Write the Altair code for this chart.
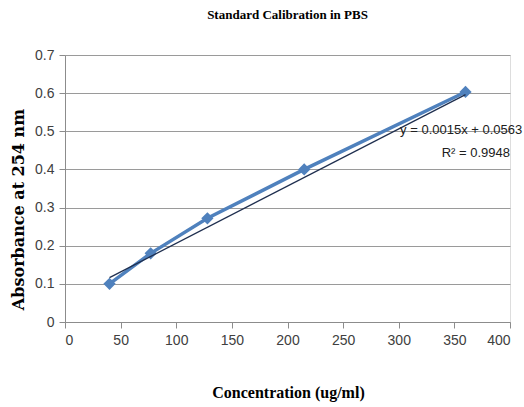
import altair as alt
import pandas as pd

# Calibration standards: concentration (ug/ml) vs absorbance at 254 nm
concentration = [40, 77, 128, 215, 360]
absorbance = [0.100, 0.180, 0.272, 0.400, 0.603]

# Least-squares fit reported on the chart
slope = 0.0015
intercept = 0.0563
r_squared = 0.9948

x_ticks = [0, 50, 100, 150, 200, 250, 300, 350, 400]
y_ticks = [0, 0.1, 0.2, 0.3, 0.4, 0.5, 0.6, 0.7]

df = pd.DataFrame({"conc": concentration, "abs": absorbance})
fit = pd.DataFrame({
    "conc": [concentration[0], concentration[-1]],
    "abs": [slope * concentration[0] + intercept, slope * concentration[-1] + intercept],
})
# Trendline equation and R² label, anchored by their right edge
labels = pd.DataFrame({
    "conc": [411, 400],
    "abs": [0.503, 0.442],
    "txt": [f"y = {slope}x + {intercept}", f"R\u00b2 = {r_squared}"],
})

tick_font = "Liberation Sans Narrow, Arial Narrow, Liberation Sans"
serif = "Liberation Serif"

x_enc = alt.X(
    "conc:Q",
    scale=alt.Scale(domain=[0, 400], nice=False),
    axis=alt.Axis(
        title="Concentration (ug/ml)",
        values=x_ticks,
        tickCount=len(x_ticks),
        grid=False,
        domainColor="#8c8c8c",
        tickColor="#8c8c8c",
        tickSize=6,
        labelPadding=5,
        labelFont=tick_font,
        labelFontSize=14,
        labelColor="#404040",
        titleFont=serif,
        titleFontSize=16,
        titleFontWeight="bold",
        titleColor="#000000",
        titleX=223,
        titleY=70,
        titleBaseline="middle",
    ),
)
y_enc = alt.Y(
    "abs:Q",
    scale=alt.Scale(domain=[0, 0.7], nice=False),
    axis=alt.Axis(
        title="Absorbance at 254 nm",
        values=y_ticks,
        tickCount=len(y_ticks),
        labelOverlap=False,
        format="~g",
        grid=True,
        gridColor="#9a9a9a",
        domainColor="#8c8c8c",
        tickColor="#8c8c8c",
        tickSize=6,
        labelPadding=5,
        labelFont=tick_font,
        labelFontSize=14,
        labelColor="#404040",
        titleFont="DejaVu Serif",
        titleFontSize=16,
        titleFontWeight="bold",
        titleColor="#000000",
        titleX=-47,
        titleY=154,
        titleBaseline="middle",
    ),
)

series = alt.Chart(df).mark_line(
    color="#4f81bd", strokeWidth=3.5,
    point=alt.OverlayMarkDef(shape="diamond", size=150, color="#4f81bd", filled=True, opacity=1),
).encode(x=x_enc, y=y_enc)

trend = alt.Chart(fit).mark_line(color="#1f2f4f", strokeWidth=1.3).encode(
    x="conc:Q", y="abs:Q"
)

eq = alt.Chart(labels).mark_text(
    align="right", baseline="middle", font=tick_font, fontSize=13, color="#202020", clip=False
).encode(x="conc:Q", y="abs:Q", text="txt:N")

chart = (
    alt.layer(series, trend, eq)
    .properties(
        width=445,
        height=267,
        title=alt.TitleParams(
            "Standard Calibration in PBS",
            font=serif,
            fontSize=13,
            fontWeight="bold",
            color="#000000",
            anchor="middle",
            offset=26,
        ),
        autosize=alt.AutoSizeParams(type="none"),
        padding={"left": 65, "top": 55, "right": 14, "bottom": 85},
    )
    .configure_view(stroke=None)
    .configure(background="white")
)

chart.save("out.html", embed_options={"renderer": "svg", "actions": False})
